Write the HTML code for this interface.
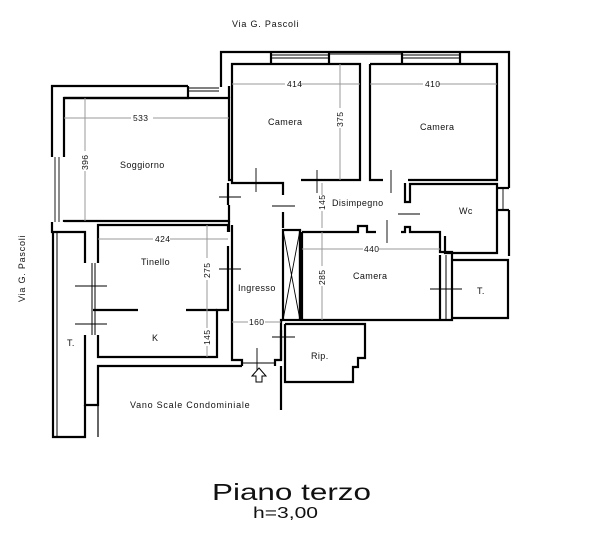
<!DOCTYPE html>
<html><head><meta charset="utf-8"><style>
html,body{margin:0;padding:0;background:#fff;}
svg{display:block;}
text{font-family:"Liberation Sans",sans-serif;fill:#111;}
</style></head><body>
<svg width="601" height="550" viewBox="0 0 601 550" xmlns="http://www.w3.org/2000/svg">
<g fill="none" stroke="#000" stroke-width="2.2" stroke-linejoin="miter">
<polyline points="188,86 52,86 52,157"/>
<polyline points="52,222 52,232 85,232 85,263"/>
<polyline points="221,87 221,52 509,52 509,188"/>
<polyline points="509,210 509,256"/>
<polyline points="64,157 64,98 188,98 188,86"/>
<polyline points="64,98 229,98 229,180 232,180"/>
<polyline points="64,222 64,221 229,221 229,205"/>
<line x1="229" y1="86" x2="229" y2="98"/>
<polyline points="232,180 232,64 360,64 360,180 301,180"/>
<polyline points="271,52 271,64"/>
<polyline points="329,52 329,64"/>
<polyline points="370,64 497,64 497,180 408,180"/>
<polyline points="370,64 370,180 383,180"/>
<polyline points="402,52 402,64"/>
<polyline points="460,52 460,64"/>
<polyline points="232,180 232,183 283,183 283,195"/>
<polyline points="283,212 283,228"/>
<polyline points="405,183 405,202 410,202 410,184 497,184 497,253 445,253 445,236"/>
<polyline points="497,210 509,210"/>
<polyline points="497,188 509,188"/>
<rect x="283" y="230" width="17" height="90"/>
<polyline points="300,230 300,320"/>
<polyline points="302,232 358,232 358,226 367,226 367,232 376,232"/>
<polyline points="401,232 405,232 405,227 410,227 410,232 440,232 440,252 452,252 452,320 302,320 302,232"/>
<polyline points="440,320 440,255"/>
<polyline points="452,260 508,260 508,318 452,318"/>
<line x1="446" y1="255" x2="446" y2="320" stroke-width="1"/>
<polyline points="228,183 228,205"/>
<polyline points="228,246 228,310 217,310 217,357 98,357 98,335"/>
<polyline points="98,263 98,225 228,225 228,232"/>
<line x1="229" y1="221" x2="229" y2="232"/>
<polyline points="93,310 138,310"/>
<polyline points="186,310 217,310"/>
<polyline points="85,335 85,405 98,405 98,366 242,366"/>
<polyline points="85,405 85,437 53,437 53,232"/>
<line x1="98" y1="405" x2="98" y2="437" stroke-width="1.2"/>
<line x1="92" y1="263" x2="92" y2="335" stroke-width="1"/>
<line x1="95" y1="263" x2="95" y2="335" stroke-width="1"/>
<line x1="57" y1="232" x2="57" y2="437" stroke-width="1"/>
<polyline points="232,225 232,360 242,360 242,366"/>
<polyline points="275,366 275,360 281,360 281,320 283,320"/>
<polyline points="281,366 281,410"/>
<line x1="242" y1="363" x2="275" y2="363" stroke-width="1"/>
<polyline points="285,324 365,324 365,358 358,358 358,367 353,367 353,382 285,382 285,324"/>
<line x1="281" y1="360" x2="281" y2="330"/>
</g>
<g stroke="#000" stroke-width="0.9">
<line x1="188" y1="88" x2="219" y2="88"/><line x1="188" y1="91" x2="219" y2="91"/>
<line x1="271" y1="55" x2="329" y2="55"/><line x1="271" y1="58" x2="329" y2="58"/>
<line x1="329" y1="54" x2="402" y2="54"/><line x1="402" y1="55" x2="460" y2="55"/><line x1="402" y1="58" x2="460" y2="58"/>
<line x1="55" y1="157" x2="55" y2="222"/><line x1="59" y1="157" x2="59" y2="222"/>
<line x1="503" y1="188" x2="503" y2="210"/>
<line x1="283" y1="230" x2="300" y2="320"/><line x1="300" y1="230" x2="283" y2="320"/>
<line x1="256" y1="168" x2="256" y2="192"/><line x1="219" y1="197" x2="241" y2="197"/>
<line x1="272" y1="206" x2="295" y2="206"/><line x1="317" y1="170" x2="317" y2="193"/>
<line x1="391" y1="170" x2="391" y2="193"/><line x1="398" y1="214" x2="420" y2="214"/>
<line x1="387" y1="220" x2="387" y2="243"/>
<line x1="75" y1="286" x2="107" y2="286"/><line x1="75" y1="324" x2="107" y2="324"/>
<line x1="219" y1="269" x2="241" y2="269"/>
<line x1="272" y1="337" x2="295" y2="337"/><line x1="257" y1="348" x2="257" y2="372"/>
<line x1="430" y1="289" x2="462" y2="289"/>
</g>
<polygon points="259,368 266,376 262,376 262,382 256,382 256,376 252,376" fill="#fff" stroke="#000" stroke-width="1"/>
<g stroke="#999" stroke-width="1">
<line x1="64" y1="118" x2="131" y2="118"/><line x1="153" y1="118" x2="229" y2="118"/>
<line x1="85" y1="98" x2="85" y2="151"/><line x1="85" y1="171" x2="85" y2="221"/>
<line x1="232" y1="84" x2="285" y2="84"/><line x1="300" y1="84" x2="360" y2="84"/>
<line x1="340" y1="64" x2="340" y2="108"/><line x1="340" y1="128" x2="340" y2="180"/>
<line x1="370" y1="84" x2="423" y2="84"/><line x1="438" y1="84" x2="497" y2="84"/>
<line x1="322" y1="183" x2="322" y2="195"/><line x1="322" y1="211" x2="322" y2="228"/>
<line x1="98" y1="239" x2="153" y2="239"/><line x1="170" y1="239" x2="228" y2="239"/>
<line x1="207" y1="225" x2="207" y2="258"/><line x1="207" y1="280" x2="207" y2="310"/>
<line x1="207" y1="310" x2="207" y2="328"/><line x1="207" y1="346" x2="207" y2="357"/>
<line x1="232" y1="322" x2="248" y2="322"/><line x1="265" y1="322" x2="281" y2="322"/>
<line x1="302" y1="249" x2="363" y2="249"/><line x1="379" y1="249" x2="440" y2="249"/>
<line x1="322" y1="232" x2="322" y2="266"/><line x1="322" y1="286" x2="322" y2="320"/>
</g>
<g font-size="9" letter-spacing="0.4">
<text x="232" y="27" textLength="67" lengthAdjust="spacing">Via  G.  Pascoli</text>
<text x="0" y="0" transform="translate(25,302) rotate(-90)" textLength="67" lengthAdjust="spacing">Via  G.  Pascoli</text>
<text x="120" y="168">Soggiorno</text>
<text x="268" y="125">Camera</text>
<text x="420" y="130">Camera</text>
<text x="332" y="206">Disimpegno</text>
<text x="459" y="214">Wc</text>
<text x="141" y="265">Tinello</text>
<text x="238" y="291">Ingresso</text>
<text x="353" y="279">Camera</text>
<text x="477" y="294">T.</text>
<text x="67" y="346">T.</text>
<text x="152" y="341">K</text>
<text x="311" y="359">Rip.</text>
<text x="130" y="408" textLength="120" lengthAdjust="spacing">Vano  Scale  Condominiale</text>
<text x="133" y="121" font-size="8.5">533</text>
<text x="287" y="87" font-size="8.5">414</text>
<text x="425" y="87" font-size="8.5">410</text>
<text x="155" y="242" font-size="8.5">424</text>
<text x="364" y="252" font-size="8.5">440</text>
<text x="249" y="325" font-size="8.5">160</text>
<text transform="translate(88,170) rotate(-90)" font-size="8.5">396</text>
<text transform="translate(343,127) rotate(-90)" font-size="8.5">375</text>
<text transform="translate(325,210) rotate(-90)" font-size="8.5">145</text>
<text transform="translate(210,278) rotate(-90)" font-size="8.5">275</text>
<text transform="translate(210,345) rotate(-90)" font-size="8.5">145</text>
<text transform="translate(325,285) rotate(-90)" font-size="8.5">285</text>
</g>
<text x="212" y="500" font-size="23" textLength="159" lengthAdjust="spacingAndGlyphs">Piano terzo</text>
<text x="253" y="518" font-size="16" textLength="65" lengthAdjust="spacingAndGlyphs">h=3,00</text>
</svg>
</body></html>
